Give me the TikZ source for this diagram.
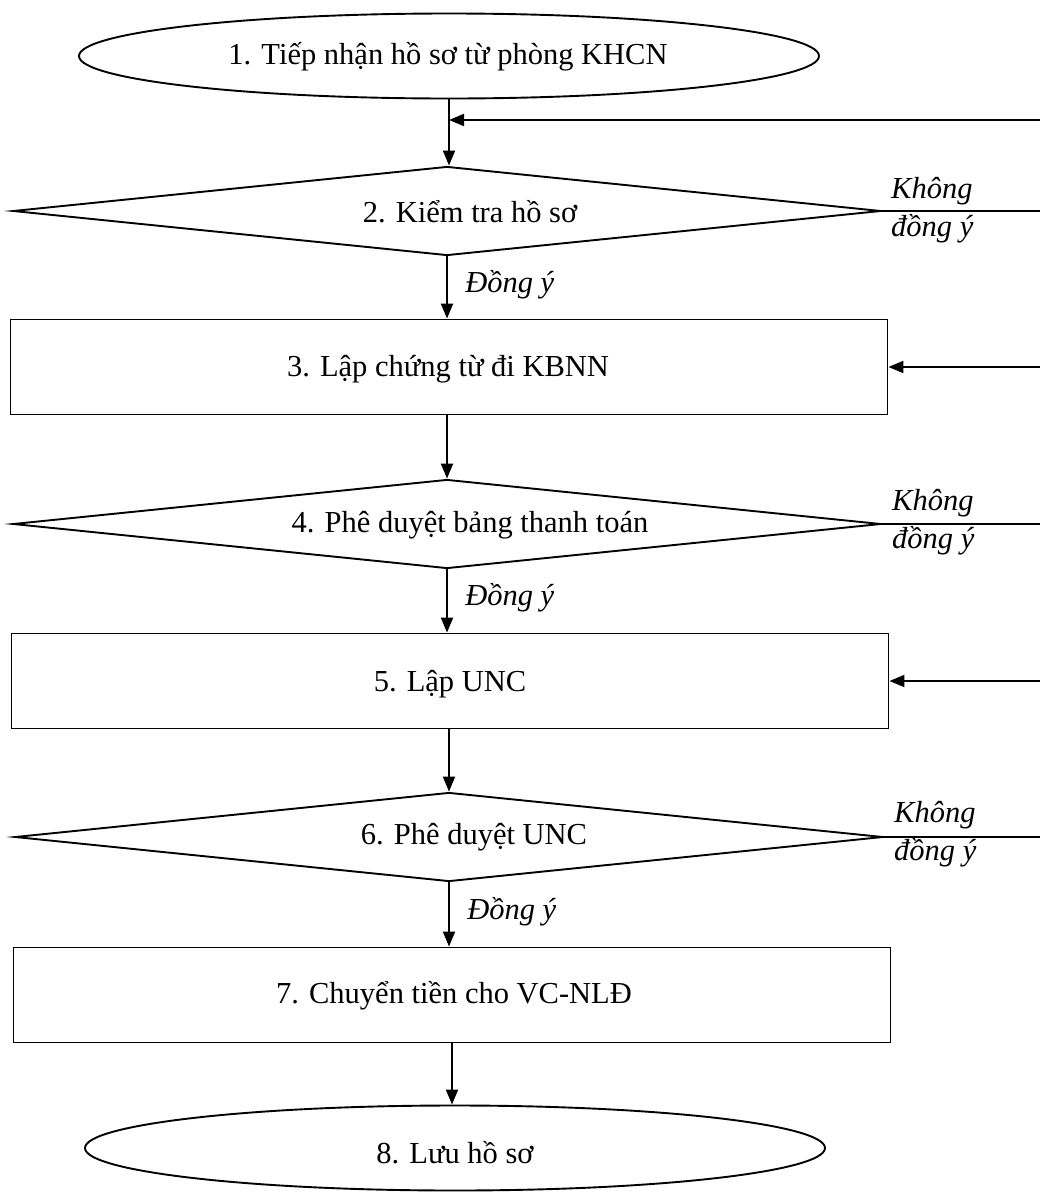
\documentclass[tikz,border=0pt]{standalone}
\usepackage{fontspec}
\setmainfont{Liberation Serif}
\usetikzlibrary{shapes.geometric,arrows.meta}
\begin{document}
\begin{tikzpicture}[x=1pt,y=-1pt,
  every node/.style={font=\fontsize{30.5}{37}\selectfont},
  line/.style={line width=1.9pt},
  arr/.style={line width=1.9pt,-{Triangle[length=15pt,width=12pt]}},
  ell/.style={draw,line width=1.9pt,ellipse,inner sep=0pt,minimum width=740pt,minimum height=85pt},
  diam/.style={draw,line width=1.9pt,diamond,inner sep=0pt,minimum width=868pt,minimum height=89pt},
  box/.style={draw,line width=1.9pt,rectangle,inner sep=0pt,minimum width=877pt,minimum height=95pt},
  lab/.style={font=\fontsize{30.5}{37}\selectfont\itshape},
  nolab/.style={font=\fontsize{30.5}{38}\selectfont\itshape,align=left,anchor=west,inner sep=0pt}]
\useasboundingbox (0,0) rectangle (1040,1192);
\coordinate (edge) at (1040,0);

\node[ell] (n1) at (449,56) {};
\node (t1) at (448,57) {1. Tiếp nhận hồ sơ từ phòng KHCN};

\node[diam] (n2) at (447,211) {};
\node (t2) at (470,212) {2. Kiểm tra hồ sơ};

\node[box] (n3) at (449,367) {};
\node (t3) at (448,369) {3. Lập chứng từ đi KBNN};

\node[diam] (n4) at (447,524) {};
\node (t4) at (470,525) {4. Phê duyệt bảng thanh toán};

\node[box] (n5) at (450,681) {};
\node (t5) at (450,684) {5. Lập UNC};

\node[diam] (n6) at (449,837) {};
\node (t6) at (474,837) {6. Phê duyệt UNC};

\node[box] (n7) at (452,995) {};
\node (t7) at (454,996) {7. Chuyển tiền cho VC-NLĐ};

\node[ell] (n8) at (455,1148) {};
\node (t8) at (455,1153) {8. Lưu hồ sơ};

% main flow (vertical connectors)
\draw[arr] (n1.south) -- (n1.south |- n2.north);
\draw[arr] (n2.south) -- (n2.south |- n3.north) node[lab,pos=0.45,right=14pt] (a2) {Đồng ý};
\draw[arr] (n3.south -| n4.north) -- (n4.north);
\draw[arr] (n4.south) -- (n4.south |- n5.north) node[lab,pos=0.45,right=14pt] (a4) {Đồng ý};
\draw[arr] (n5.south -| n6.north) -- (n6.north);
\draw[arr] (n6.south) -- (n6.south |- n7.north) node[lab,pos=0.45,right=14pt] (a6) {Đồng ý};
\draw[arr] (n7.south) -- (n7.south |- n8.north);

% feedback lines
\coordinate (r1) at (1040,120);
\coordinate (m1) at (n1.south |- r1);
\draw[arr] (r1) -- (m1);

\coordinate (r2) at (edge |- n2.east);
\draw[line] (n2.east) -- (r2);
\node[nolab] (k2) at (891,210) {Không\\đồng ý};

\coordinate (r3) at (edge |- n3.east);
\draw[arr] (r3) -- (n3.east);

\coordinate (r4) at (edge |- n4.east);
\draw[line] (n4.east) -- (r4);
\node[nolab] (k4) at (892,522) {Không\\đồng ý};

\coordinate (r5) at (edge |- n5.east);
\draw[arr] (r5) -- (n5.east);

\coordinate (r6) at (edge |- n6.east);
\draw[line] (n6.east) -- (r6);
\node[nolab] (k6) at (894,834) {Không\\đồng ý};
\end{tikzpicture}
\end{document}
